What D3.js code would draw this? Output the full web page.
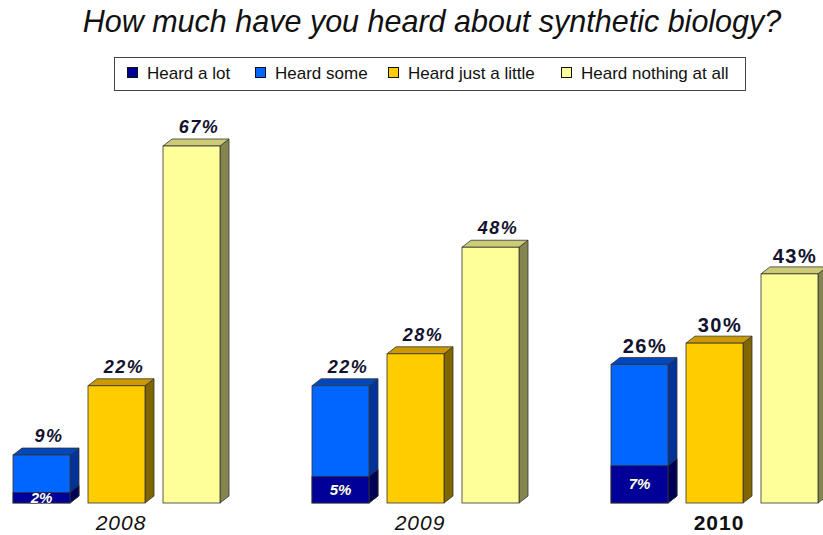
<!DOCTYPE html>
<html>
<head>
<meta charset="utf-8">
<script src="https://cdn.jsdelivr.net/npm/d3@7"></script>
<style>
  html, body { margin: 0; padding: 0; background: #ffffff; }
  svg { display: block; font-family: "Liberation Sans", Arial, sans-serif; }
</style>
</head>
<body>
<svg id="chart" width="823" height="535"></svg>
<script>
// Survey answers by year (percent of respondents)
const years = ["2008", "2009", "2010"];
const seriesNames = ["Heard a lot", "Heard some", "Heard just a little", "Heard nothing at all"];
const heardALot = [2, 5, 7];
const heardSome = [9, 22, 26];
const heardJustALittle = [22, 28, 30];
const heardNothing = [67, 48, 43];
const highlightYear = "2010";

// Face colours for each answer: front, side, top
const faceColors = {
  "Heard a lot":          { front: "#000099", side: "#000055", top: "#000077" },
  "Heard some":          { front: "#0066ff", side: "#003399", top: "#0047bb" },
  "Heard just a little": { front: "#ffcc00", side: "#806600", top: "#cc9a00" },
  "Heard nothing at all":{ front: "#ffff99", side: "#85854f", top: "#cccc77" }
};

const svg = d3.select("#chart");
const font = "'Liberation Sans', Arial, sans-serif";
const textColor = "#12122e";

// 3D extrusion offsets
const depthX = 9, depthY = -7;

// Scales
const baseY = 503;
const y = d3.scaleLinear().domain([0, d3.max(heardNothing)]).range([baseY, 146]);
const xYear = d3.scaleBand().domain(years).range([13, 13 + 3 * 299]).paddingInner(0).paddingOuter(0);
const barKeys = ["Heard some", "Heard just a little", "Heard nothing at all"];
const xBar = d3.scaleBand().domain(barKeys).range([0, 207]).paddingInner(0.24).paddingOuter(0);
const bw = xBar.bandwidth();

// Title
svg.append("text")
  .attr("x", 432).attr("y", 32)
  .attr("text-anchor", "middle")
  .style("font-family", font)
  .style("font-style", "italic")
  .style("font-size", "30.5px")
  .attr("fill", "#111111")
  .text("How much have you heard about synthetic biology?");

// Legend
const legend = svg.append("g");
legend.append("rect")
  .attr("x", 114.5).attr("y", 57.5).attr("width", 631).attr("height", 33)
  .attr("fill", "#ffffff").attr("stroke", "#444444").attr("stroke-width", 1);
const legendX = [127, 255, 388, 561];
seriesNames.forEach((name, i) => {
  const g = legend.append("g").attr("transform", `translate(${legendX[i]},0)`);
  g.append("rect")
    .attr("x", 0.5).attr("y", 67.5).attr("width", 10).attr("height", 10)
    .attr("fill", faceColors[name].front).attr("stroke", "#111111").attr("stroke-width", 1);
  g.append("text")
    .attr("x", 20).attr("y", 79)
    .style("font-family", font).style("font-size", "17px")
    .attr("fill", "#111111")
    .text(name);
});

// Draws one extruded bar between two values
function bar3d(g, x0, v0, v1, colors, withTop) {
  const yTop = y(v1), yBot = y(v0);
  const x1 = x0 + bw;
  const outline = "#333333";
  g.append("path")
    .attr("d", `M${x1},${yBot} L${x1 + depthX},${yBot + depthY} L${x1 + depthX},${yTop + depthY} L${x1},${yTop} Z`)
    .attr("fill", colors.side).attr("stroke", outline).attr("stroke-width", 0.8).attr("stroke-linejoin", "round");
  if (withTop) {
    g.append("path")
      .attr("d", `M${x0},${yTop} L${x0 + depthX},${yTop + depthY} L${x1 + depthX},${yTop + depthY} L${x1},${yTop} Z`)
      .attr("fill", colors.top).attr("stroke", outline).attr("stroke-width", 0.8).attr("stroke-linejoin", "round");
  }
  g.append("rect")
    .attr("x", x0).attr("y", yTop).attr("width", bw).attr("height", yBot - yTop)
    .attr("fill", colors.front).attr("stroke", outline).attr("stroke-width", 0.8);
}

// Value label above a bar
function valueLabel(g, xc, v, year) {
  const hl = year === highlightYear;
  g.append("text")
    .attr("x", xc + (hl ? 1 : 3)).attr("y", y(v) - (hl ? 11 : 13))
    .attr("text-anchor", "middle")
    .style("font-family", font)
    .style("font-weight", "bold")
    .style("font-style", hl ? "normal" : "italic")
    .style("font-size", hl ? "20px" : "18px")
    .style("letter-spacing", "1.5px")
    .attr("fill", textColor)
    .text(v + "%");
}

years.forEach((year, i) => {
  const g = svg.append("g").attr("transform", `translate(${xYear(year)},0)`);
  const values = {
    "Heard some": heardSome[i],
    "Heard just a little": heardJustALittle[i],
    "Heard nothing at all": heardNothing[i]
  };
  barKeys.forEach(key => {
    const x0 = xBar(key);
    bar3d(g, x0, 0, values[key], faceColors[key], true);
    if (key === "Heard some") {
      // "Heard a lot" share sits inside the bottom of the "Heard some" bar
      bar3d(g, x0, 0, heardALot[i], faceColors["Heard a lot"], false);
      g.append("text")
        .attr("x", x0 + bw / 2)
        .attr("y", (y(0) + y(heardALot[i])) / 2 + 5)
        .attr("text-anchor", "middle")
        .style("font-family", font)
        .style("font-weight", "bold")
        .style("font-style", "italic")
        .style("font-size", "15px")
        .attr("fill", "#ffffff")
        .attr("stroke", "#000033").attr("stroke-width", 0.6)
        .style("paint-order", "stroke")
        .text(heardALot[i] + "%");
    }
    valueLabel(g, x0 + bw / 2 + depthX / 2, values[key], year);
  });

  // Year label under the middle bar
  const hl = year === highlightYear;
  g.append("text")
    .attr("x", xBar("Heard just a little") + bw / 2 + depthX / 2)
    .attr("y", 530)
    .attr("text-anchor", "middle")
    .style("font-family", font)
    .style("font-style", hl ? "normal" : "italic")
    .style("font-weight", hl ? "bold" : "normal")
    .style("font-size", "21px")
    .style("letter-spacing", "1px")
    .attr("fill", "#111111")
    .text(year);
});
</script>
</body>
</html>
